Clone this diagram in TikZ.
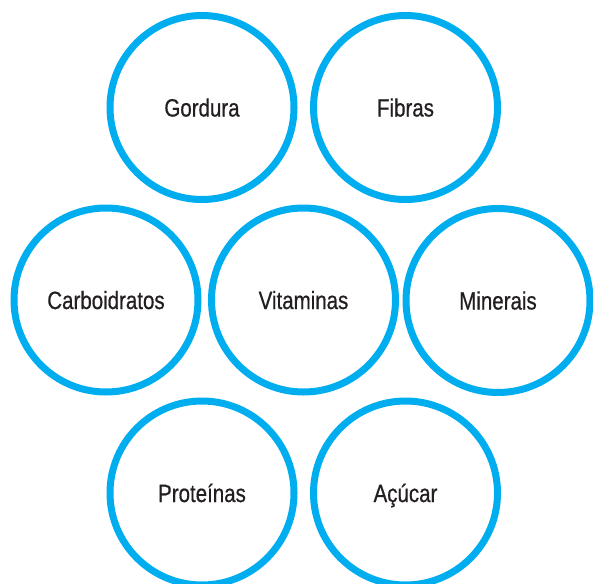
\documentclass[tikz,border=0pt]{standalone}
\usepackage{fontspec}
\setmainfont[FakeStretch=0.82, FakeBold=0.6]{Liberation Sans}
\usepackage{tikz}
\usetikzlibrary{positioning, shapes.geometric}
\usepackage{xcolor}
\definecolor{nutriblue}{RGB}{0,174,239}
\definecolor{nutritext}{RGB}{35,31,32}

\begin{document}
\begin{tikzpicture}[
    x=1pt, y=-1pt,
    every node/.style={font=\fontsize{25}{28}\selectfont, text=nutritext},
    nutri/.style={circle, draw=nutriblue, line width=7pt, minimum size=184pt, inner sep=0pt, text height=18pt, text depth=-1.5pt}
  ]

  \useasboundingbox (0,0) rectangle (593,583);

  % top row
  \node[nutri] (gordura) at (202,107.5) {Gordura};
  \node[nutri] (fibras) at (405.5,107.5) {Fibras};

  % middle row
  \node[nutri] (carbo) at (106,300) {Carboidratos};
  \node[nutri] (vitaminas) at (303.5,300) {Vitaminas};
  \node[nutri] (minerais) at (498,300.5) {Minerais};

  % bottom row
  \node[nutri] (proteinas) at (202,493) {Proteínas};
  \node[nutri] (acucar) at (405.5,493) {Açúcar};

\end{tikzpicture}
\end{document}
